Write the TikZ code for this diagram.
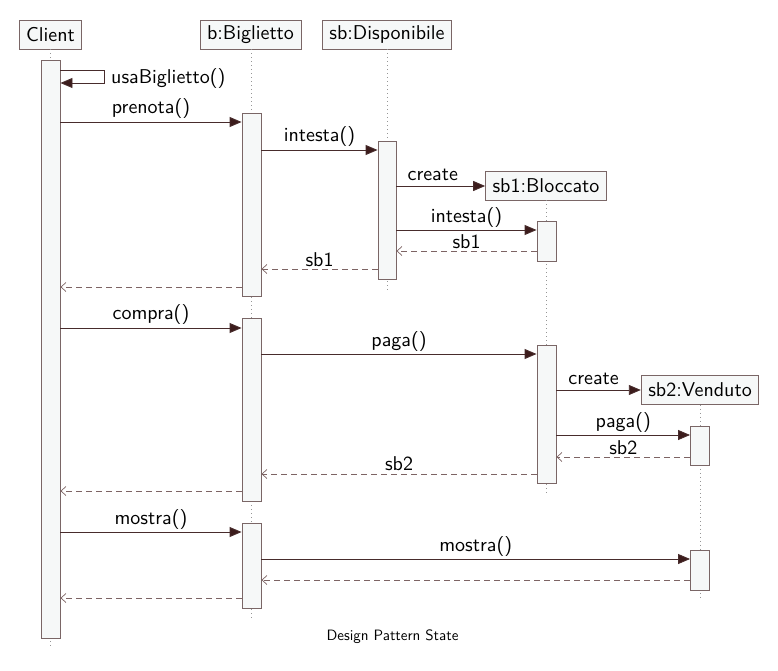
\documentclass[tikz,border=0pt]{standalone}
\usepackage{fontspec}
\newfontfamily\lms{lmsans10-regular.otf}
\usetikzlibrary{arrows.meta}
\definecolor{linec}{RGB}{72,44,44}
\definecolor{headc}{RGB}{60,28,28}
\definecolor{dashc}{RGB}{125,100,100}
\definecolor{boxborder}{RGB}{122,102,102}
\definecolor{boxfill}{RGB}{246,248,248}
\definecolor{dotc}{RGB}{150,150,150}
\tikzset{
  obj/.style={draw=boxborder, fill=boxfill, line width=0.9pt, rectangle, inner xsep=7pt, inner ysep=0pt,
    minimum height=29pt, font=\lms\fontsize{20}{24}\selectfont, text=black},
  bar/.style={draw=boxborder, fill=boxfill, line width=0.9pt, rectangle, inner sep=0pt, minimum width=19pt},
  life/.style={draw=dotc, line width=0.9pt, dash pattern=on 1pt off 3pt},
  call/.style={draw=linec, line width=0.9pt, -{Triangle[length=12pt,width=10pt,fill=headc]}},
  ret/.style={draw=dashc, line width=0.9pt, dash pattern=on 6pt off 4pt, -{Straight Barb[length=5pt,width=9pt,line width=0.7pt]}},
  lbl/.style={anchor=base, inner sep=0pt, font=\lms\fontsize{20}{24}\selectfont, text=black},
}
\begin{document}
\begin{tikzpicture}[x=1pt,y=-1pt]
\useasboundingbox (0,0) rectangle (778,671);
% objects
\node[obj] (client) at (50.5,34.5) {Client};
\node[obj] (bigl) at (250.5,34.5) {b:Biglietto};
\node[obj] (disp) at (387,34.5) {sb:Disponibile};
\node[obj] (bloc) at (546,185.5) {sb1:Bloccato};
\node[obj] (vend) at (700,390) {sb2:Venduto};
% lifeline ends
\coordinate (clientEnd) at (50.5,646);
\coordinate (biglEnd) at (251.5,618);
\coordinate (dispEnd) at (387,291);
\coordinate (blocEnd) at (546.5,495);
\coordinate (vendEnd) at (700,600);
\draw[life] (client.south) -- (clientEnd);
\draw[life] (bigl.south -| biglEnd) -- (biglEnd);
\draw[life] (disp.south) -- (dispEnd);
\draw[life] (bloc.south -| blocEnd) -- (blocEnd);
\draw[life] (vend.south) -- (vendEnd);
% activation bars
\node[bar, minimum height=578pt] (cb) at (50.5,349) {};
\node[bar, minimum height=183pt] (bb1) at (251.5,204.5) {};
\node[bar, minimum height=183pt] (bb2) at (251.5,409.5) {};
\node[bar, minimum height=85pt] (bb3) at (251.5,565.5) {};
\node[bar, minimum height=138pt, minimum width=18pt] (db) at (387,210) {};
\node[bar, minimum height=40pt] (lb1) at (546.5,241) {};
\node[bar, minimum height=138pt] (lb2) at (546.5,414) {};
\node[bar, minimum height=39pt] (vb1) at (700,445.5) {};
\node[bar, minimum height=40pt] (vb2) at (700,570) {};
% self call
\coordinate (selfR) at (104,76);
\draw[call] (cb.east |- 0,70) -- (selfR |- 0,70) -- (selfR |- 0,83) -- (cb.east |- 0,83);
\node[lbl, anchor=base west] (usaL) at (111,84) {usaBiglietto()};
% messages
\draw[call] (cb.east |- 0,122) -- node[lbl, yshift=8pt] {prenota()} (bb1.west |- 0,122);
\draw[call] (bb1.east |- 0,150) -- node[lbl, yshift=8pt] {intesta()} (db.west |- 0,150);
\draw[call] (db.east |- 0,186) -- node[lbl, yshift=6pt, xshift=-8pt] {create} (bloc.west |- 0,186);
\draw[call] (db.east |- 0,230) -- node[lbl, yshift=8pt] {intesta()} (lb1.west |- 0,230);
\draw[ret] (lb1.west |- 0,251) -- node[lbl, yshift=3pt] {sb1} (db.east |- 0,251);
\draw[ret] (db.west |- 0,269) -- node[lbl, yshift=3pt] {sb1} (bb1.east |- 0,269);
\draw[ret] (bb1.west |- 0,287) -- (cb.east |- 0,287);
\draw[call] (cb.east |- 0,328) -- node[lbl, yshift=9pt] {compra()} (bb2.west |- 0,328);
\draw[call] (bb2.east |- 0,354) -- node[lbl, yshift=8pt] {paga()} (lb2.west |- 0,354);
\draw[call] (lb2.east |- 0,390) -- node[lbl, yshift=6pt, xshift=-5pt] {create} (vend.west |- 0,390);
\draw[call] (lb2.east |- 0,435) -- node[lbl, yshift=8pt] {paga()} (vb1.west |- 0,435);
\draw[ret] (vb1.west |- 0,457) -- node[lbl, yshift=3pt] {sb2} (lb2.east |- 0,457);
\draw[ret] (lb2.west |- 0,474) -- node[lbl, yshift=4pt] {sb2} (bb2.east |- 0,474);
\draw[ret] (bb2.west |- 0,491) -- (cb.east |- 0,491);
\draw[call] (cb.east |- 0,532) -- node[lbl, yshift=8pt] {mostra()} (bb3.west |- 0,532);
\draw[call] (bb3.east |- 0,559) -- node[lbl, yshift=8pt] {mostra()} (vb2.west |- 0,559);
\draw[ret] (vb2.west |- 0,580) -- (bb3.east |- 0,580);
\draw[ret] (bb3.west |- 0,598) -- (cb.east |- 0,598);
% title
\node[anchor=base, inner sep=0pt, font=\lms\fontsize{15}{18}\selectfont] (title) at (392.5,640) {Design Pattern State};
\end{tikzpicture}
\end{document}
